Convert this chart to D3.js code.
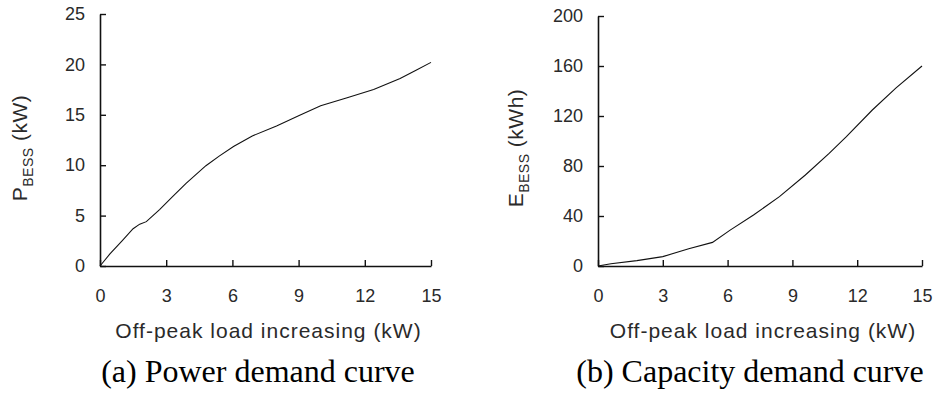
<!DOCTYPE html>
<html>
<head>
<meta charset="utf-8">
<script src="https://cdn.jsdelivr.net/npm/d3@7"></script>
<style>
  body { margin: 0; background: #fff; }
  .tick text { font-family: "Liberation Sans", Arial, sans-serif; font-size: 18px; fill: #2a2a2a; }
  .axisTitle { font-family: "Liberation Sans", Arial, sans-serif; font-size: 21px; fill: #2a2a2a; }
  .caption { font-family: "Liberation Serif", "Times New Roman", serif; font-size: 32px; fill: #000; }
</style>
</head>
<body>
<div id="chart"></div>
<script>
// data
let loadIncrease = [0, 0.45, 1.0, 1.5, 1.8, 2.1, 2.7, 3.3, 3.9, 4.8, 5.4, 6.05, 6.9, 8.0, 9.05, 10.0, 11.2, 12.4, 13.6, 14.3, 15];
let powerDemand  = [0, 1.2, 2.5, 3.7, 4.15, 4.4, 5.6, 6.9, 8.2, 9.95, 10.9, 11.85, 12.9, 13.9, 14.95, 15.9, 16.7, 17.5, 18.6, 19.4, 20.2];

let loadIncreaseB = [0, 0.6, 1.8, 3.0, 4.2, 5.3, 6.1, 7.2, 8.4, 9.6, 10.7, 11.5, 12.7, 13.8, 15];
let capacityDemand = [0, 1.8, 4.3, 7.5, 13.8, 18.9, 28.5, 40.8, 55.5, 72.8, 90.1, 103.5, 124.8, 142.5, 160];

let xTicks = [0, 3, 6, 9, 12, 15];
let yTicksA = [0, 5, 10, 15, 20, 25];
let yTicksB = [0, 40, 80, 120, 160, 200];

let svgWidth = 933;
let svgHeight = 394;

let svg = d3.select("#chart")
  .append("svg")
  .attr("width", svgWidth)
  .attr("height", svgHeight);

function drawPanel(opts) {
  let g = svg.append("g");

  let x = d3.scaleLinear().domain([0, 15]).range([opts.left, opts.right]);
  let y = d3.scaleLinear().domain(opts.yDomain).range([266, opts.top]);

  // axes with inward ticks
  let xAxis = d3.axisBottom(x).tickValues(xTicks).tickSize(-6).tickPadding(23).tickSizeOuter(0);
  let yAxis = d3.axisLeft(y).tickValues(opts.yTicks).tickSize(-6).tickPadding(15).tickSizeOuter(0);

  let gx = g.append("g").attr("transform", `translate(0, 266)`).call(xAxis);
  let gy = g.append("g").attr("transform", `translate(${opts.left}, 0)`).call(yAxis);

  [gx, gy].forEach(a => {
    a.select(".domain").attr("stroke", "#111").attr("stroke-width", 1.6);
    a.selectAll(".tick line").attr("stroke", "#111").attr("stroke-width", 1.4);
  });
  gx.selectAll(".tick text").attr("dy", "0.71em");

  let pts = opts.xs.map((d, i) => [d, opts.ys[i]]);
  let line = d3.line().x(d => x(d[0])).y(d => y(d[1]));
  g.append("path")
    .datum(pts)
    .attr("d", line)
    .attr("fill", "none")
    .attr("stroke", "#111")
    .attr("stroke-width", 1.1);

  // x axis title
  g.append("text")
    .attr("class", "axisTitle")
    .attr("x", (opts.left + opts.right) / 2 + 3)
    .attr("y", 338)
    .attr("text-anchor", "middle")
    .attr("letter-spacing", "1px")
    .text("Off-peak load increasing (kW)");

  // y axis title
  let yt = g.append("text")
    .attr("class", "axisTitle")
    .attr("letter-spacing", "0.5px")
    .attr("transform", `translate(${opts.yTitleX}, 148) rotate(-90)`)
    .attr("text-anchor", "middle");
  yt.append("tspan").text(opts.symbol);
  yt.append("tspan").attr("font-size", "14px").attr("dy", 6).text("BESS");
  yt.append("tspan").attr("dy", -6).text(" " + opts.unit);

  // caption
  g.append("text")
    .attr("class", "caption")
    .attr("x", opts.capX)
    .attr("y", 382)
    .attr("text-anchor", "middle")
    .text(opts.caption);
}

drawPanel({
  left: 100, right: 431, top: 14,
  yDomain: [0, 25], yTicks: yTicksA,
  xs: loadIncrease, ys: powerDemand,
  symbol: "P", unit: "(kW)", yTitleX: 27,
  caption: "(a) Power demand curve", capX: 258
});

drawPanel({
  left: 598, right: 922, top: 16,
  yDomain: [0, 200], yTicks: yTicksB,
  xs: loadIncreaseB, ys: capacityDemand,
  symbol: "E", unit: "(kWh)", yTitleX: 523,
  caption: "(b) Capacity demand curve", capX: 750
});
</script>
</body>
</html>
